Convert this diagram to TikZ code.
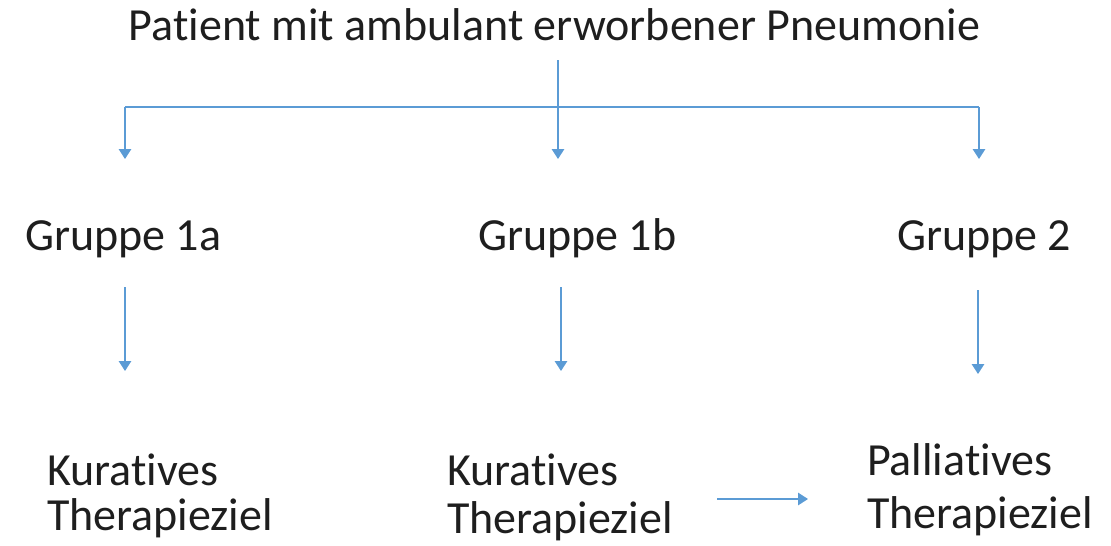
\documentclass[tikz,border=0pt]{standalone}
\usepackage{fontspec}
\setmainfont{Carlito}[Ligatures=NoCommon]
\usetikzlibrary{arrows.meta}
\definecolor{arrowblue}{RGB}{91,155,213}
\definecolor{txt}{RGB}{30,30,30}
\begin{document}
\begin{tikzpicture}[x=1pt,y=-1pt,
  lbl/.style={inner sep=0pt,outer sep=0pt,text=txt,font=\fontsize{46}{45}\selectfont},
  ttl/.style={inner sep=0pt,outer sep=0pt,text=txt,font=\fontsize{46}{50}\selectfont},
  conn/.style={draw=arrowblue,line width=1.4pt,-{Triangle[width=12.5pt,length=10pt]}},
  plain/.style={draw=arrowblue,line width=1.4pt}]
\useasboundingbox (0,0) rectangle (1111,546);
\node[ttl,anchor=base] (t) at (554.5,40) {Patient mit ambulant erworbener Pneumonie};
\node[lbl,anchor=base west] (g1) at (25,250) {Gruppe 1a};
\node[lbl,anchor=base west] (g2) at (478,250) {Gruppe 1b};
\node[lbl,anchor=base west] (g3) at (897,250) {Gruppe 2};
\node[lbl,anchor=base west,align=left] (k1) at (47,530) {Kuratives\\Therapieziel};
\node[lbl,anchor=base west,align=left] (k2) at (447,533) {Kuratives\\[3pt]Therapieziel};
\node[lbl,anchor=base west,align=left] (p) at (867,528) {Palliatives\\[8pt]Therapieziel};
% branch
\coordinate (top) at (558,60);
\coordinate (jl) at (125,107);
\coordinate (jr) at (979,107);
\coordinate (e1) at (125,159);
\coordinate (e2) at (558,159);
\coordinate (e3) at (979,159);
\draw[plain] (jl) -- (jr);
\draw[conn] (top) -- (e2);
\draw[conn] (jl) -- (e1);
\draw[conn] (jr) -- (e3);
% group arrows
\coordinate (s1) at (125,287);
\coordinate (f1) at (125,371);
\coordinate (s2) at (561,287);
\coordinate (f2) at (561,371);
\coordinate (s3) at (978,290);
\coordinate (f3) at (978,374);
\draw[conn] (s1) -- (f1);
\draw[conn] (s2) -- (f2);
\draw[conn] (s3) -- (f3);
% horizontal
\coordinate (h1) at (717,499);
\coordinate (h2) at (808,499);
\draw[conn] (h1) -- (h2);
\end{tikzpicture}
\end{document}
